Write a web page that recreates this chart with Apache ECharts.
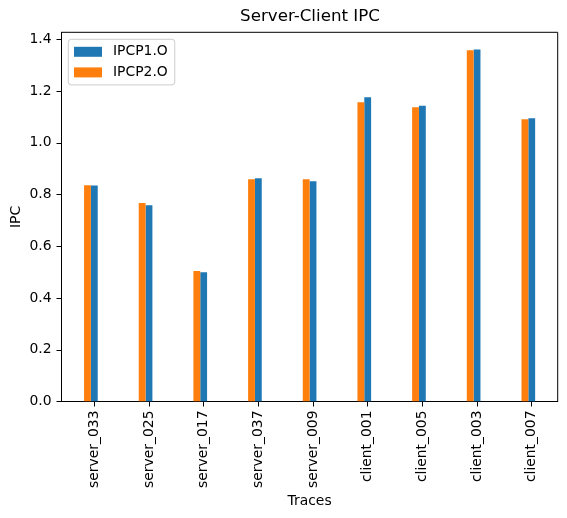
<!DOCTYPE html>
<html>
<head>
<meta charset="utf-8">
<script src="https://cdn.jsdelivr.net/npm/echarts@6/dist/echarts.min.js"></script>
<style>html,body{margin:0;padding:0;background:#fff;}#c{width:567px;height:518px;}</style>
</head>
<body>
<div id="c"></div>
<script>
const categories = ['server_033','server_025','server_017','server_037','server_009','client_001','client_005','client_003','client_007'];
const ipcp1 = [0.835, 0.759, 0.500, 0.863, 0.851, 1.176, 1.143, 1.361, 1.095];
const ipcp2 = [0.836, 0.767, 0.504, 0.859, 0.859, 1.157, 1.137, 1.358, 1.091];
const yTicks = [0, 0.2, 0.4, 0.6, 0.8, 1.0, 1.2, 1.4];

const FONT = 'DejaVu Sans';
const BAR_W = 0.125;
const xIdx = categories.map((_, i) => i);

function makeRender(offset, color) {
  return function (params, api) {
    const x = api.value(0), y = api.value(1);
    const p0 = api.coord([x + offset - BAR_W / 2, y]);
    const p1 = api.coord([x + offset + BAR_W / 2, 0]);
    return {
      type: 'rect',
      shape: { x: p0[0], y: p0[1], width: p1[0] - p0[0], height: p1[1] - p0[1] },
      style: { fill: color }
    };
  };
}

const chart = echarts.init(document.getElementById('c'), null, { renderer: 'canvas' });
chart.setOption({
  animation: false,
  backgroundColor: '#ffffff',
  title: {
    text: 'Server-Client IPC',
    left: 310, top: 8.5, padding: 0, textAlign: 'center',
    textStyle: { fontFamily: FONT, fontSize: 16.7, fontWeight: 'normal', color: '#000' }
  },
  legend: {
    orient: 'vertical',
    left: 68.3, top: 39.3,
    data: ['IPCP1.O', 'IPCP2.O'],
    icon: 'rect',
    itemWidth: 28, itemHeight: 10,
    itemGap: 4.6,
    padding: [4.5, 7, 4.5, 5.7],
    borderColor: '#cccccc', borderWidth: 1, borderRadius: 3,
    backgroundColor: 'rgba(255,255,255,0.8)',
    textStyle: { fontFamily: FONT, fontSize: 13.9, color: '#000', lineHeight: 16, padding: [0, 0, 0, 6] }
  },
  grid: { left: 61.5, right: 9.3, top: 32.3, bottom: 116.5, show: true, borderColor: '#000', borderWidth: 1, backgroundColor: 'transparent', containLabel: false, outerBoundsMode: 'none' },
  xAxis: {
    type: 'value',
    min: -0.6, max: 8.475,
    name: 'Traces', nameLocation: 'middle', nameGap: 93, nameMoveOverlap: false,
    nameTextStyle: { fontFamily: FONT, fontSize: 13.9, color: '#000' },
    axisLine: { show: true, onZero: false, lineStyle: { color: '#000', width: 1 } },
    axisTick: { show: true, inside: false, length: 5, lineStyle: { color: '#000', width: 1 }, customValues: xIdx },
    axisLabel: {
      show: true, rotate: 90, margin: 9,
      fontFamily: FONT, fontSize: 13.9, color: '#000',
      customValues: xIdx,
      formatter: v => categories[Math.round(v)] || ''
    },
    splitLine: { show: false }
  },
  yAxis: {
    type: 'value',
    min: 0, max: 1.427,
    name: 'IPC', nameLocation: 'middle', nameGap: 38, nameMoveOverlap: false,
    nameTextStyle: { fontFamily: FONT, fontSize: 13.9, color: '#000' },
    axisLine: { show: true, onZero: false, lineStyle: { color: '#000', width: 1 } },
    axisTick: { show: true, inside: false, length: 5, lineStyle: { color: '#000', width: 1 }, customValues: yTicks },
    axisLabel: {
      show: true, margin: 10,
      fontFamily: FONT, fontSize: 13.9, color: '#000',
      customValues: yTicks,
      formatter: v => v.toFixed(1)
    },
    splitLine: { show: false }
  },
  series: [
    {
      name: 'IPCP1.O', type: 'custom',
      itemStyle: { color: '#1f77b4' },
      encode: { x: 0, y: 1 },
      data: ipcp1.map((v, i) => [i, v]),
      renderItem: makeRender(0, '#1f77b4'),
      clip: true
    },
    {
      name: 'IPCP2.O', type: 'custom',
      itemStyle: { color: '#ff7f0e' },
      encode: { x: 0, y: 1 },
      data: ipcp2.map((v, i) => [i, v]),
      renderItem: makeRender(-BAR_W, '#ff7f0e'),
      clip: true
    }
  ]
});
</script>
</body>
</html>
